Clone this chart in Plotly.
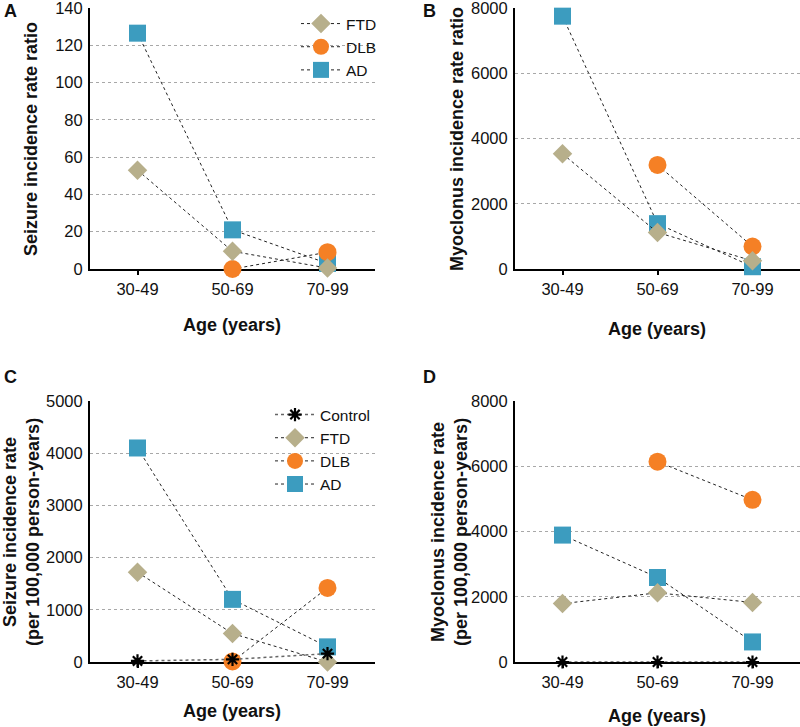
import plotly.graph_objects as go

ages = ["30-49", "50-69", "70-99"]

# Panel A: seizure incidence rate ratio
a_ftd = [53, 9.5, 0.5]
a_dlb = [None, 0, 9]
a_ad = [126.5, 21, 3]

# Panel B: myoclonus incidence rate ratio
b_ftd = [3530, 1120, 250]
b_dlb = [None, 3190, 690]
b_ad = [7750, 1390, 70]

# Panel C: seizure incidence rate (per 100,000 person-years)
c_control = [20, 50, 160]
c_ftd = [1720, 545, 0]
c_dlb = [None, 10, 1420]
c_ad = [4100, 1200, 290]

# Panel D: myoclonus incidence rate (per 100,000 person-years)
d_control = [0, 0, 0]
d_ftd = [1790, 2120, 1825]
d_dlb = [None, 6140, 4970]
d_ad = [3890, 2590, 615]

yticks_a = [0, 20, 40, 60, 80, 100, 120, 140]
yticks_b = [0, 2000, 4000, 6000, 8000]
yticks_c = [0, 1000, 2000, 3000, 4000, 5000]
yticks_d = [0, 2000, 4000, 6000, 8000]

W, H = 800, 727
FONT = "Liberation Sans, Arial, sans-serif"
C_FTD = "#B7AF8B"
C_DLB = "#F58025"
C_AD = "#3C9CBF"
LINE = dict(color="#222222", width=1, dash="dot")


def px_x(p):
    return p / W


def px_y(p):
    return 1 - p / H


fig = go.Figure()


def add_panel(n, ad, dlb, ftd, control, legend, show):
    xa = "x" if n == 1 else f"x{n}"
    ya = "y" if n == 1 else f"y{n}"
    common = dict(x=ages, xaxis=xa, yaxis=ya, mode="lines+markers",
                  cliponaxis=False, line=LINE, legend=legend, showlegend=show)
    fig.add_trace(go.Scatter(y=ad, name="AD",
                             marker=dict(symbol="square", size=17, color=C_AD), **common))
    fig.add_trace(go.Scatter(y=dlb, name="DLB",
                             marker=dict(symbol="circle", size=18, color=C_DLB), **common))
    fig.add_trace(go.Scatter(y=ftd, name="FTD",
                             marker=dict(symbol="diamond", size=15, color=C_FTD), **common))
    if control is not None:
        c2 = dict(common)
        c2["line"] = dict(color="#666666", width=1.5, dash="dot")
        fig.add_trace(go.Scatter(y=control, name="Control",
                                 marker=dict(symbol="asterisk-open", size=11, color="black",
                                             line=dict(color="black", width=2.2)), **c2))


add_panel(1, a_ad, a_dlb, a_ftd, None, "legend", True)
add_panel(2, b_ad, b_dlb, b_ftd, None, "legend", False)
add_panel(3, c_ad, c_dlb, c_ftd, c_control, "legend2", True)
add_panel(4, d_ad, d_dlb, d_ftd, d_control, "legend2", False)

tickfont = dict(family=FONT, size=16.5, color="#111111")


def xaxis(dom, anchor):
    return dict(domain=dom, anchor=anchor, type="category", categoryorder="array",
                categoryarray=ages, range=[-0.5, 2.5], showgrid=False,
                showline=True, linecolor="black", linewidth=2,
                ticks="outside", ticklen=4, tickwidth=1.5, tickcolor="black",
                tickfont=tickfont, layer="below traces", zeroline=False,
                automargin=False, fixedrange=True)


def yaxis(dom, anchor, rng, tv):
    return dict(domain=dom, anchor=anchor, range=rng, tickvals=tv,
                showgrid=True, gridcolor="#a8a8a8", griddash="dot", gridwidth=1,
                showline=True, linecolor="black", linewidth=2, ticks="",
                ticklabelstandoff=2, tickfont=tickfont, zeroline=False,
                ticklabeloverflow="allow",
                layer="below traces", automargin=False, fixedrange=True)


xa_dom = [px_x(90), px_x(375)]
xb_dom = [px_x(515), 1.0]
top_dom = [px_y(269), px_y(8)]
bot_dom = [px_y(662), px_y(401)]

legfont = dict(family=FONT, size=15.5, color="#111111")

fig.update_layout(
    width=W, height=H,
    margin=dict(l=0, r=0, t=0, b=0, autoexpand=False),
    paper_bgcolor="white", plot_bgcolor="white",
    font=dict(family=FONT, color="#111111"),
    xaxis=xaxis(xa_dom, "y"),
    yaxis=yaxis(top_dom, "x", [0, 140], yticks_a),
    xaxis2=xaxis(xb_dom, "y2"),
    yaxis2=yaxis(top_dom, "x2", [0, 8000], yticks_b),
    xaxis3=xaxis(xa_dom, "y3"),
    yaxis3=yaxis(bot_dom, "x3", [0, 5000], yticks_c),
    xaxis4=xaxis(xb_dom, "y4"),
    yaxis4=yaxis(bot_dom, "x4", [0, 8000], yticks_d),
    legend=dict(x=px_x(296), y=px_y(7), xanchor="left", yanchor="top",
                traceorder="reversed", bgcolor="rgba(0,0,0,0)", itemwidth=40,
                font=legfont),
    legend2=dict(x=px_x(270), y=px_y(398), xanchor="left", yanchor="top",
                 traceorder="reversed", bgcolor="rgba(0,0,0,0)", itemwidth=40,
                 font=legfont),
)

annots = [
    # panel letters
    dict(text="<b>A</b>", x=2, y=11, size=18),
    dict(text="<b>B</b>", x=421, y=11, size=18),
    dict(text="<b>C</b>", x=2, y=377, size=18),
    dict(text="<b>D</b>", x=421, y=377, size=18),
    # x-axis titles
    dict(text="<b>Age (years)</b>", x=232, y=325, size=18),
    dict(text="<b>Age (years)</b>", x=657, y=329, size=18),
    dict(text="<b>Age (years)</b>", x=232, y=711, size=18),
    dict(text="<b>Age (years)</b>", x=657, y=716, size=18),
]
for a in annots:
    fig.add_annotation(text=a["text"], x=px_x(a["x"]), y=px_y(a["y"]),
                       xref="paper", yref="paper", showarrow=False,
                       xanchor="center" if "Age" in a["text"] else "left",
                       yanchor="middle",
                       font=dict(family=FONT, size=a["size"], color="#111111"))

ytitles = [
    ("<b>Seizure incidence rate ratio</b>", 31, 139),
    ("<b>Myoclonus incidence rate ratio</b>", 457, 139),
    ("<b>Seizure incidence rate<br>(per 100,000 person-years)</b>", 21, 532),
    ("<b>Myoclonus incidence rate<br>(per 100,000 person-years)</b>", 449, 532),
]
for t, x, y in ytitles:
    fig.add_annotation(text=t, x=px_x(x), y=px_y(y), xref="paper", yref="paper",
                       showarrow=False, textangle=-90, xanchor="center", yanchor="middle",
                       font=dict(family=FONT, size=18, color="#111111"))

fig.write_html(
    "out.html",
    config={"displayModeBar": False},
    post_script="document.body.style.margin='0';document.body.style.overflow='hidden';",
)
